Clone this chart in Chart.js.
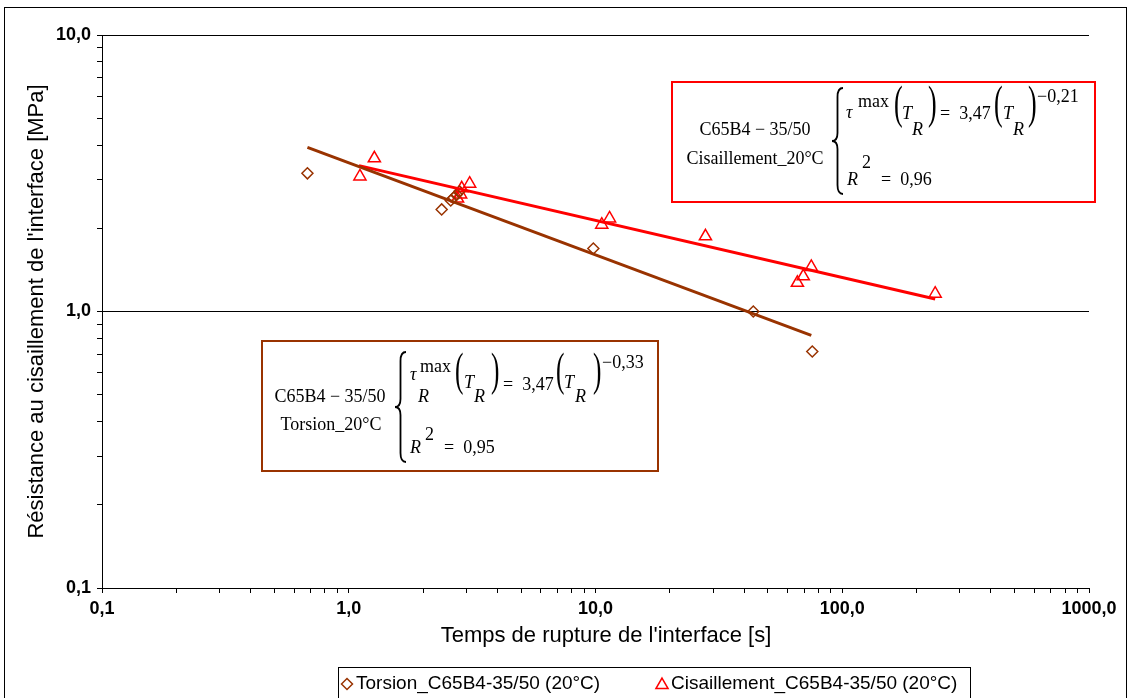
<!DOCTYPE html>
<html lang="fr">
<head>
    <meta charset="UTF-8">
    <title>Résistance au cisaillement de l'interface</title>
    <script src="https://cdn.jsdelivr.net/npm/chart.js"></script>
    <style>
        body {
            margin: 0;
            background: #fff;
        }
        canvas {
            display: block;
        }
    </style>
</head>
<body>

<canvas id="myChart" width="1128" height="698"></canvas>

<script>
    // séries
    const seriesNames = ['Torsion_C65B4-35/50 (20°C)', 'Cisaillement_C65B4-35/50 (20°C)'];

    const torsionX = [0.68, 2.38, 2.59, 2.66, 2.74, 2.81, 9.8, 43.6, 75.6];
    const torsionY = [3.16, 2.34, 2.52, 2.58, 2.65, 2.72, 1.69, 1.0, 0.717];

    const cisX = [1.11, 1.27, 2.76, 2.84, 2.87, 3.09, 10.6, 11.4, 27.9, 65.8, 69.5, 74.9, 238];
    const cisY = [3.08, 3.58, 2.56, 2.65, 2.79, 2.90, 2.06, 2.17, 1.87, 1.27, 1.34, 1.45, 1.16];

    // courbes de tendance (puissance), extrémités
    const torsionFitX = [0.68, 74.9];
    const torsionFitY = [3.92, 0.82];
    const cisFitX = [1.10, 238];
    const cisFitY = [3.37, 1.11];

    const fitLabels = [['C65B4 − 35/50', 'Torsion_20°C'], ['C65B4 − 35/50', 'Cisaillement_20°C']];
    const fitCoef = ['3,47', '3,47'];
    const fitExp = ['−0,33', '−0,21'];
    const fitR2 = ['0,95', '0,96'];

    const xDecades = [0.1, 1, 10, 100, 1000];
    const yDecades = [0.1, 1, 10];

    const brown = '#993300';
    const red = '#FF0000';
    const serif = '"Liberation Serif", "Times New Roman", serif';
    const sans = '"Liberation Sans", Arial, sans-serif';

    function pts(xs, ys) {
        return xs.map((x, i) => ({x: x, y: ys[i]}));
    }

    function logTicks(decades) {
        const out = [];
        decades.forEach((d, i) => {
            if (i === decades.length - 1) {
                out.push({value: d, major: true});
                return;
            }
            for (let k = 1; k <= 9; k++) {
                out.push({value: +(k * d).toPrecision(3), major: k === 1});
            }
        });
        return out;
    }

    function isPow10(v) {
        const l = Math.log10(v);
        return Math.abs(l - Math.round(l)) < 1e-9;
    }

    function fmt(v) {
        return isPow10(v) ? v.toFixed(1).replace('.', ',') : '';
    }

    // dessins du cadre, de la légende et des équations
    function diamond(ctx, x, y, r) {
        ctx.beginPath();
        ctx.moveTo(x - r, y);
        ctx.lineTo(x, y - r);
        ctx.lineTo(x + r, y);
        ctx.lineTo(x, y + r);
        ctx.closePath();
        ctx.stroke();
    }

    function triangle(ctx, x, y, r) {
        ctx.beginPath();
        ctx.moveTo(x, y - r);
        ctx.lineTo(x + r * 0.866, y + r / 2);
        ctx.lineTo(x - r * 0.866, y + r / 2);
        ctx.closePath();
        ctx.stroke();
    }

    function txt(ctx, s, x, y, size, italic, align) {
        ctx.font = (italic ? 'italic ' : '') + size + 'px ' + serif;
        ctx.textAlign = align || 'left';
        ctx.textBaseline = 'alphabetic';
        ctx.fillText(s, x, y);
    }

    function paren(ctx, ch, x, top, bottom) {
        const size = (bottom - top) / 0.87;
        ctx.save();
        ctx.translate(x, top + 0.69 * size);
        ctx.scale(0.55, 1);
        ctx.font = size + 'px ' + serif;
        ctx.textAlign = 'left';
        ctx.textBaseline = 'alphabetic';
        ctx.fillText(ch, 0, 0);
        ctx.restore();
    }

    function brace(ctx, x, top, bottom) {
        const mid = (top + bottom) / 2;
        const w = 11;
        const xm = x + w * 0.5;
        ctx.beginPath();
        ctx.moveTo(x + w, top);
        ctx.quadraticCurveTo(xm, top, xm, top + 9);
        ctx.lineTo(xm, mid - 8);
        ctx.quadraticCurveTo(xm, mid, x, mid);
        ctx.quadraticCurveTo(xm, mid, xm, mid + 8);
        ctx.lineTo(xm, bottom - 9);
        ctx.quadraticCurveTo(xm, bottom, x + w, bottom);
        ctx.lineWidth = 1.8;
        ctx.strokeStyle = '#000';
        ctx.stroke();
    }

    const decorPlugin = {
        id: 'decor',
        afterDraw(chart) {
            const ctx = chart.ctx;
            ctx.save();

            // cadre extérieur
            ctx.strokeStyle = '#000';
            ctx.lineWidth = 1;
            ctx.strokeRect(4.5, 7.5, 1122, 700);

            // titre de l'axe des x
            ctx.fillStyle = '#000';
            ctx.font = '22px ' + sans;
            ctx.textAlign = 'center';
            ctx.textBaseline = 'middle';
            ctx.fillText("Temps de rupture de l'interface [s]", 606, 636);

            // légende
            ctx.strokeRect(338.5, 667.5, 632, 32);
            ctx.lineWidth = 1.5;
            ctx.strokeStyle = brown;
            diamond(ctx, 347, 684, 5.5);
            ctx.strokeStyle = red;
            triangle(ctx, 662, 685, 7);
            ctx.font = '19px ' + sans;
            ctx.textAlign = 'left';
            ctx.textBaseline = 'middle';
            ctx.fillText(seriesNames[0], 356, 684);
            ctx.fillText(seriesNames[1], 671, 684);

            // boîte cisaillement
            ctx.lineWidth = 2;
            ctx.strokeStyle = red;
            ctx.strokeRect(672, 82, 423, 120);
            txt(ctx, fitLabels[1][0], 755, 135, 18, false, 'center');
            txt(ctx, fitLabels[1][1], 755, 164, 18, false, 'center');
            brace(ctx, 832, 88, 194);
            txt(ctx, 'τ', 846, 118, 18, true);
            txt(ctx, 'max', 858, 107, 18, false);
            paren(ctx, '(', 894, 85, 126);
            txt(ctx, 'T', 902, 119, 18, true);
            txt(ctx, 'R', 912, 135, 18, true);
            paren(ctx, ')', 928, 85, 126);
            txt(ctx, '=  ' + fitCoef[1], 940, 119, 18, false);
            paren(ctx, '(', 994, 85, 126);
            txt(ctx, 'T', 1003, 119, 18, true);
            txt(ctx, 'R', 1013, 135, 18, true);
            paren(ctx, ')', 1028, 85, 126);
            txt(ctx, fitExp[1], 1037, 102, 18, false);
            txt(ctx, 'R', 847, 185, 18, true);
            txt(ctx, '2', 862, 168, 18, false);
            txt(ctx, '=  ' + fitR2[1], 881, 185, 18, false);

            // boîte torsion
            ctx.lineWidth = 2;
            ctx.strokeStyle = brown;
            ctx.strokeRect(262, 341, 396, 130);
            txt(ctx, fitLabels[0][0], 330, 402, 18, false, 'center');
            txt(ctx, fitLabels[0][1], 331, 430, 18, false, 'center');
            brace(ctx, 395, 352, 462);
            txt(ctx, 'τ', 410, 380, 18, true);
            txt(ctx, 'max', 420, 372, 18, false);
            txt(ctx, 'R', 418, 402, 18, true);
            paren(ctx, '(', 455, 353, 393);
            txt(ctx, 'T', 464, 388, 18, true);
            txt(ctx, 'R', 474, 402, 18, true);
            paren(ctx, ')', 491, 353, 393);
            txt(ctx, '=  ' + fitCoef[0], 503, 390, 18, false);
            paren(ctx, '(', 556, 353, 393);
            txt(ctx, 'T', 564, 388, 18, true);
            txt(ctx, 'R', 575, 402, 18, true);
            paren(ctx, ')', 593, 353, 393);
            txt(ctx, fitExp[0], 602, 368, 18, false);
            txt(ctx, 'R', 410, 453, 18, true);
            txt(ctx, '2', 425, 440, 18, false);
            txt(ctx, '=  ' + fitR2[0], 444, 453, 18, false);

            ctx.restore();
        }
    };

    const config = {
        type: 'scatter',
        data: {
            datasets: [
                {
                    label: 'tendance torsion',
                    data: pts(torsionFitX, torsionFitY),
                    showLine: true,
                    borderColor: brown,
                    borderWidth: 3,
                    pointRadius: 0,
                    order: 0
                },
                {
                    label: 'tendance cisaillement',
                    data: pts(cisFitX, cisFitY),
                    showLine: true,
                    borderColor: red,
                    borderWidth: 3,
                    pointRadius: 0,
                    order: 0
                },
                {
                    label: seriesNames[0],
                    data: pts(torsionX, torsionY),
                    pointStyle: 'rectRot',
                    pointRadius: 5.5,
                    pointBorderWidth: 1.5,
                    borderColor: brown,
                    backgroundColor: 'rgba(255,255,255,0)',
                    order: 1
                },
                {
                    label: seriesNames[1],
                    data: pts(cisX, cisY),
                    pointStyle: 'triangle',
                    pointRadius: 7,
                    pointBorderWidth: 1.5,
                    borderColor: red,
                    backgroundColor: 'rgba(255,255,255,0)',
                    order: 1
                }
            ]
        },
        options: {
            responsive: false,
            animation: false,
            layout: {
                padding: {left: 0, top: 35, right: 39, bottom: 40}
            },
            plugins: {
                legend: {display: false},
                tooltip: {enabled: false}
            },
            scales: {
                x: {
                    type: 'logarithmic',
                    min: 0.1,
                    max: 1000,
                    afterBuildTicks: (scale) => { scale.ticks = logTicks(xDecades); },
                    afterFit: (scale) => { scale.height = 70; },
                    border: {color: '#000', width: 1},
                    grid: {
                        drawOnChartArea: false,
                        tickColor: '#000',
                        tickLength: 5
                    },
                    ticks: {
                        autoSkip: false,
                        maxRotation: 0,
                        padding: 5,
                        color: '#000',
                        font: {family: sans, size: 18, weight: 'bold'},
                        callback: (v) => fmt(v)
                    }
                },
                y: {
                    type: 'logarithmic',
                    min: 0.1,
                    max: 10,
                    afterBuildTicks: (scale) => { scale.ticks = logTicks(yDecades); },
                    afterFit: (scale) => { scale.width = 102; },
                    border: {color: '#000', width: 1},
                    grid: {
                        color: (c) => (c.tick && c.tick.major ? '#000' : 'rgba(0,0,0,0)'),
                        tickColor: '#000',
                        tickLength: 5
                    },
                    ticks: {
                        autoSkip: false,
                        padding: 6,
                        color: '#000',
                        font: {family: sans, size: 18, weight: 'bold'},
                        callback: (v) => fmt(v)
                    },
                    title: {
                        display: true,
                        text: "Résistance au cisaillement de l'interface [MPa]",
                        color: '#000',
                        font: {family: sans, size: 22},
                        padding: {top: 24, bottom: 0}
                    }
                }
            }
        },
        plugins: [decorPlugin]
    };

    const ctx = document.getElementById('myChart').getContext('2d');
    new Chart(ctx, config);
</script>

</body>
</html>
